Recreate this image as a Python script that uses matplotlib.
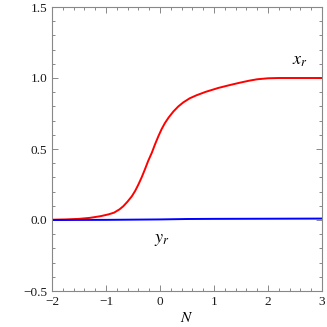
import numpy as np
import matplotlib
matplotlib.use("Agg")
import matplotlib.pyplot as plt
from matplotlib.ticker import MultipleLocator, FuncFormatter

# Data
N_x = [-2.0, -1.75, -1.5, -1.3, -1.1, -0.95, -0.85, -0.75, -0.68, -0.6, -0.52, -0.46, -0.40,
       -0.34, -0.28, -0.22, -0.15, -0.09, -0.03, 0.03, 0.09, 0.16, 0.25, 0.34, 0.43, 0.55,
       0.68, 0.85, 1.08, 1.3, 1.48, 1.65, 1.8, 2.0, 2.2, 3.0]
x_r = [0.002, 0.004, 0.008, 0.015, 0.027, 0.04, 0.052, 0.075, 0.097, 0.13, 0.168, 0.205, 0.25,
       0.30, 0.356, 0.415, 0.475, 0.535, 0.59, 0.64, 0.682, 0.722, 0.765, 0.80, 0.828, 0.857,
       0.879, 0.903, 0.930, 0.951, 0.967, 0.981, 0.991, 0.998, 1.0, 1.0]
N_y = [-2.0, -1.0, 0.0, 0.5, 1.0, 2.0, 3.0]
y_r = [0.0, 0.001, 0.004, 0.007, 0.008, 0.009, 0.010]

plt.rcParams['font.family'] = ['Liberation Serif', 'DejaVu Serif']
plt.rcParams['mathtext.fontset'] = 'stix'

fig = plt.figure(figsize=(3.27, 3.27), dpi=100)
ax = fig.add_axes([52/327, 1 - 291/327, 270/327, 284/327])

ax.plot(N_x, x_r, color='#ff0000', lw=1.4, solid_joinstyle='round')
ax.plot(N_y, y_r, color='#0000ff', lw=1.4)

ax.set_xlim(-2, 3)
ax.set_ylim(-0.5, 1.5)
ax.xaxis.set_major_locator(MultipleLocator(1))
ax.xaxis.set_minor_locator(MultipleLocator(0.2))
ax.yaxis.set_major_locator(MultipleLocator(0.5))
ax.yaxis.set_minor_locator(MultipleLocator(0.1))
ax.yaxis.set_major_formatter(FuncFormatter(lambda v, p: ("\u2212" if v < 0 else "") + f"{abs(v):.1f}"))
ax.xaxis.set_major_formatter(FuncFormatter(lambda v, p: ("\u2212" if v < 0 else "") + f"{abs(int(round(v)))}"))

gray = '#888888'
for s in ax.spines.values():
    s.set_color(gray)
    s.set_linewidth(0.8)
ax.tick_params(which='both', direction='in', top=True, right=True, color=gray,
               labelsize=9.5, labelcolor='#1a1a1a', width=0.7)
ax.tick_params(which='major', length=4, pad=3.5)
ax.tick_params(which='minor', length=2.2)

ax.set_xlabel('$N$', fontsize=11, labelpad=2)
ax.text(2.59, 1.06, '$x_r$', fontsize=13, ha='center', va='bottom')
ax.text(0.04, -0.075, '$y_r$', fontsize=13, ha='center', va='top')

fig.savefig('out.png', dpi=100)
